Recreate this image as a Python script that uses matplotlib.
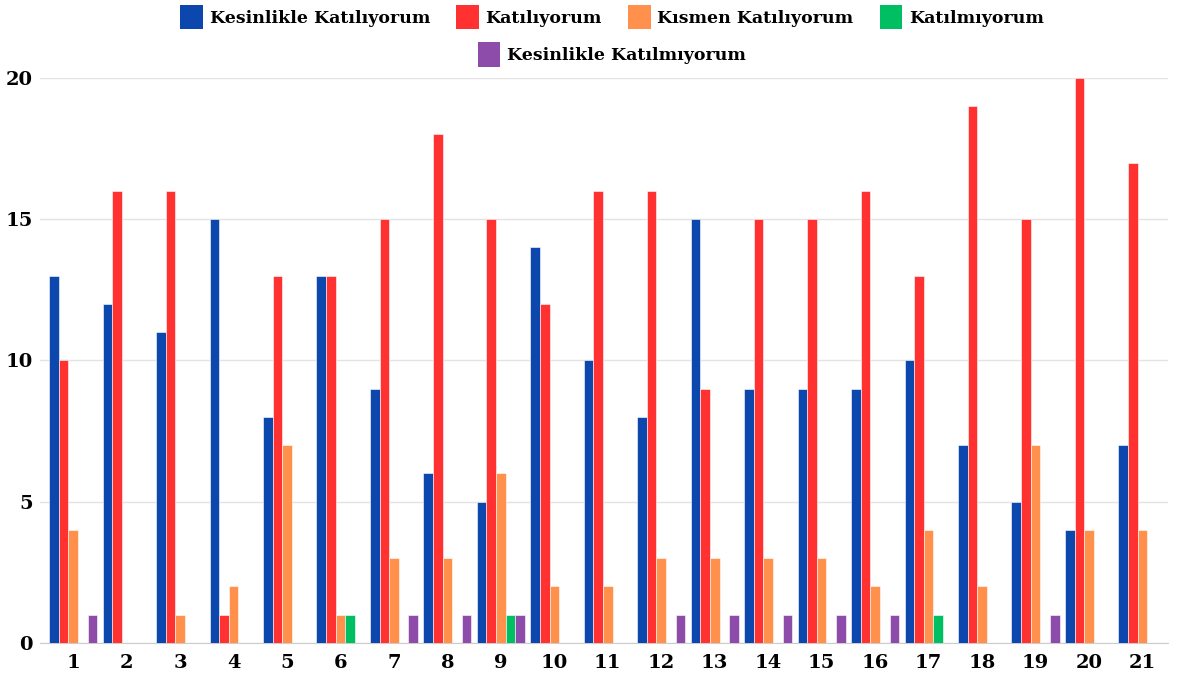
import matplotlib
matplotlib.use("Agg")
import matplotlib.pyplot as plt
import numpy as np
from matplotlib.patches import Patch

groups = [str(i) for i in range(1, 22)]
series = ["Kesinlikle Katılıyorum", "Katılıyorum", "Kısmen Katılıyorum",
          "Katılmıyorum", "Kesinlikle Katılmıyorum"]
kesinlikle_katiliyorum = [13, 12, 11, 15, 8, 13, 9, 6, 5, 14, 10, 8, 15, 9, 9, 9, 10, 7, 5, 4, 7]
katiliyorum = [10, 16, 16, 1, 13, 13, 15, 18, 15, 12, 16, 16, 9, 15, 15, 16, 13, 19, 15, 20, 17]
kismen = [4, 0, 1, 2, 7, 1, 3, 3, 6, 2, 2, 3, 3, 3, 3, 2, 4, 2, 7, 4, 4]
katilmiyorum = [0, 0, 0, 0, 0, 1, 0, 0, 1, 0, 0, 0, 0, 0, 0, 0, 1, 0, 0, 0, 0]
kesinlikle_katilmiyorum = [1, 0, 0, 0, 0, 0, 1, 1, 1, 0, 0, 1, 1, 1, 1, 1, 0, 0, 1, 0, 0]
colors = ["#0B47AD", "#FF3131", "#FF914D", "#00BF63", "#8D4BAA"]

values = [kesinlikle_katiliyorum, katiliyorum, kismen, katilmiyorum, kesinlikle_katilmiyorum]

font = "DejaVu Serif"

fig = plt.figure(figsize=(11.77, 6.81), dpi=100)
ax = fig.add_axes([0.034, 0.0558, 0.958, 0.8297])

x = np.arange(len(groups))
w = 0.18
for i, (vals, c) in enumerate(zip(values, colors)):
    ax.bar(x + (i - 2) * w, vals, width=w, color=c, edgecolor="white", linewidth=0.4, zorder=3)

ax.set_xlim(-0.62, 20.47)
ax.set_ylim(0, 20)
ax.set_yticks([0, 5, 10, 15, 20])
ax.set_xticks(x)
ax.set_xticklabels(groups)
ax.grid(axis="y", color="#e3e3e3", linewidth=1, zorder=0)
for s in ["top", "right", "left"]:
    ax.spines[s].set_visible(False)
ax.spines["bottom"].set_color("#cccccc")
ax.tick_params(length=0, pad=8)
for lab in ax.get_xticklabels() + ax.get_yticklabels():
    lab.set_fontfamily(font)
    lab.set_fontweight("bold")
    lab.set_fontsize(14)
ax.tick_params(axis="y", pad=5)

handles = [Patch(facecolor=c, label=s) for c, s in zip(colors, series)]
leg_kw = dict(frameon=False, prop={"family": font, "weight": "bold", "size": 12.5},
              handlelength=1.3, handleheight=1.8, handletextpad=0.4, columnspacing=1.5)
leg1 = fig.legend(handles=handles[:4], loc="center", bbox_to_anchor=(0.52, 0.975), ncol=4, **leg_kw)
leg2 = fig.legend(handles=handles[4:], loc="center", bbox_to_anchor=(0.52, 0.92), ncol=1, **leg_kw)

fig.savefig("out.png", dpi=100)
